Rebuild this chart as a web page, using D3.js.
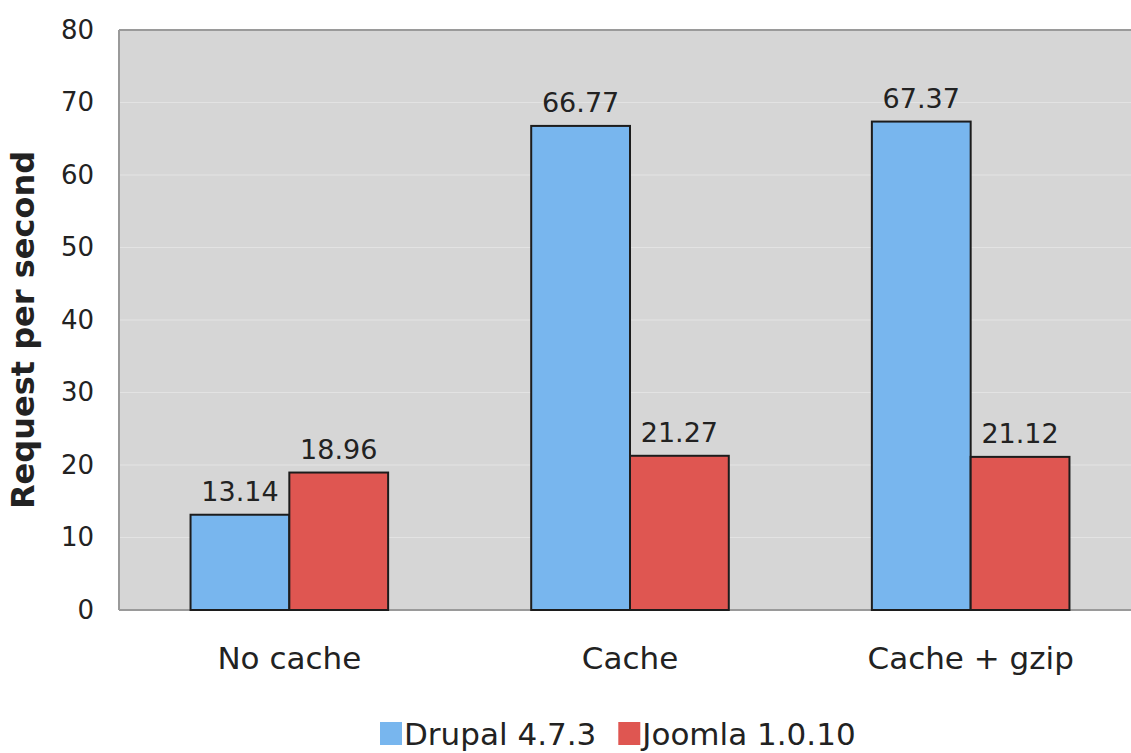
<!DOCTYPE html>
<html>
<head>
<meta charset="utf-8">
<script src="https://cdn.jsdelivr.net/npm/d3@7"></script>
<style>
  body { margin: 0; background: #fff; }
  text { font-family: "DejaVu Sans", Verdana, sans-serif; fill: #222; }
</style>
</head>
<body>
<div id="chart"></div>
<script>
// DATA
let categories = ["No cache", "Cache", "Cache + gzip"]
let seriesNames = ["Drupal 4.7.3", "Joomla 1.0.10"]
let drupal = [13.14, 66.77, 67.37]
let joomla = [18.96, 21.27, 21.12]
let yTicks = [0, 10, 20, 30, 40, 50, 60, 70, 80]
let colors = ["#78b6ee", "#df5651"]

let rows = categories.map((c, i) => ({cat: c, values: [drupal[i], joomla[i]]}))

// CHART AREA
let W = 1131, H = 753
let margin = {top: 30, right: -10, bottom: 143, left: 119},
    width = W - margin.left - margin.right,
    height = H - margin.top - margin.bottom;

let svg = d3.select("#chart").append("svg")
    .attr("width", W)
    .attr("height", H)

let g = svg.append("g")
    .attr("transform", "translate(" + margin.left + "," + margin.top + ")")

// SCALES
let x0 = d3.scaleBand()
    .domain(categories)
    .range([0, width])
    .paddingInner(0.42)
    .paddingOuter(0.21)

let x1 = d3.scaleBand()
    .domain(seriesNames)
    .range([0, x0.bandwidth()])

let y = d3.scaleLinear()
    .domain([0, 80])
    .range([height, 0])

// background + grid
g.append("rect")
    .attr("width", width)
    .attr("height", height)
    .attr("fill", "#d6d6d6")

g.selectAll(".grid")
    .data(yTicks.slice(1, -1))
    .enter().append("line")
    .attr("x1", 0).attr("x2", width)
    .attr("y1", d => y(d)).attr("y2", d => y(d))
    .attr("stroke", "#e3e3e3")
    .attr("stroke-width", 1.2)

// border lines (left, top, bottom)
g.append("line").attr("x1", 0).attr("x2", 0).attr("y1", 0).attr("y2", height)
    .attr("stroke", "#9a9a9a").attr("stroke-width", 2)
g.append("line").attr("x1", 0).attr("x2", width).attr("y1", 0).attr("y2", 0)
    .attr("stroke", "#9a9a9a").attr("stroke-width", 2)
g.append("line").attr("x1", 0).attr("x2", width).attr("y1", height).attr("y2", height)
    .attr("stroke", "#9a9a9a").attr("stroke-width", 2)

// Y AXIS
let yAxis = d3.axisLeft(y).tickValues(yTicks).tickSize(0).tickPadding(25)
let yAxisGroup = g.append("g").attr("class", "y-axis").call(yAxis)
yAxisGroup.select(".domain").remove()
yAxisGroup.selectAll("text")
    .style("font-size", "26px")
    .style("font-family", "DejaVu Sans, sans-serif")
    .attr("fill", "#222")

// X AXIS
let xAxis = d3.axisBottom(x0).tickSize(0).tickPadding(37)
let xAxisGroup = g.append("g").attr("class", "x-axis")
    .attr("transform", "translate(0," + height + ")")
    .call(xAxis)
xAxisGroup.select(".domain").remove()
xAxisGroup.selectAll("text")
    .style("font-size", "31px")
    .style("font-family", "DejaVu Sans, sans-serif")
    .attr("fill", "#222")

// BARS
let groups = g.selectAll(".group")
    .data(rows)
    .enter().append("g")
    .attr("class", "group")
    .attr("transform", d => "translate(" + x0(d.cat) + ",0)")

let bars = groups.selectAll(".bar")
    .data(d => d.values.map((v, i) => ({name: seriesNames[i], value: v, i: i})))
    .enter()

bars.append("rect")
    .attr("class", "bar")
    .attr("x", d => x1(d.name))
    .attr("y", d => y(d.value))
    .attr("width", x1.bandwidth())
    .attr("height", d => height - y(d.value))
    .attr("fill", d => colors[d.i])
    .attr("stroke", "#1c1c1c")
    .attr("stroke-width", 2)

bars.append("text")
    .attr("x", d => x1(d.name) + x1.bandwidth() / 2)
    .attr("y", d => y(d.value) - 14)
    .attr("text-anchor", "middle")
    .style("font-size", "27px")
    .text(d => d.value.toFixed(2))

// Y TITLE
svg.append("text")
    .attr("transform", "translate(34," + (margin.top + height / 2 + 10) + ") rotate(-90)")
    .attr("text-anchor", "middle")
    .style("font-size", "32px")
    .style("font-weight", "bold")
    .attr("fill", "#111")
    .text("Request per second")

// LEGEND
let legend = svg.append("g").attr("transform", "translate(0,745)")
let lx = 380
seriesNames.forEach((name, i) => {
    legend.append("rect")
        .attr("x", lx).attr("y", -23)
        .attr("width", 22).attr("height", 23)
        .attr("fill", colors[i])
    let t = legend.append("text")
        .attr("x", lx + 24).attr("y", 0)
        .style("font-size", "31px")
        .text(name)
    lx += 24 + t.node().getComputedTextLength() + 22
})
</script>
</body>
</html>
